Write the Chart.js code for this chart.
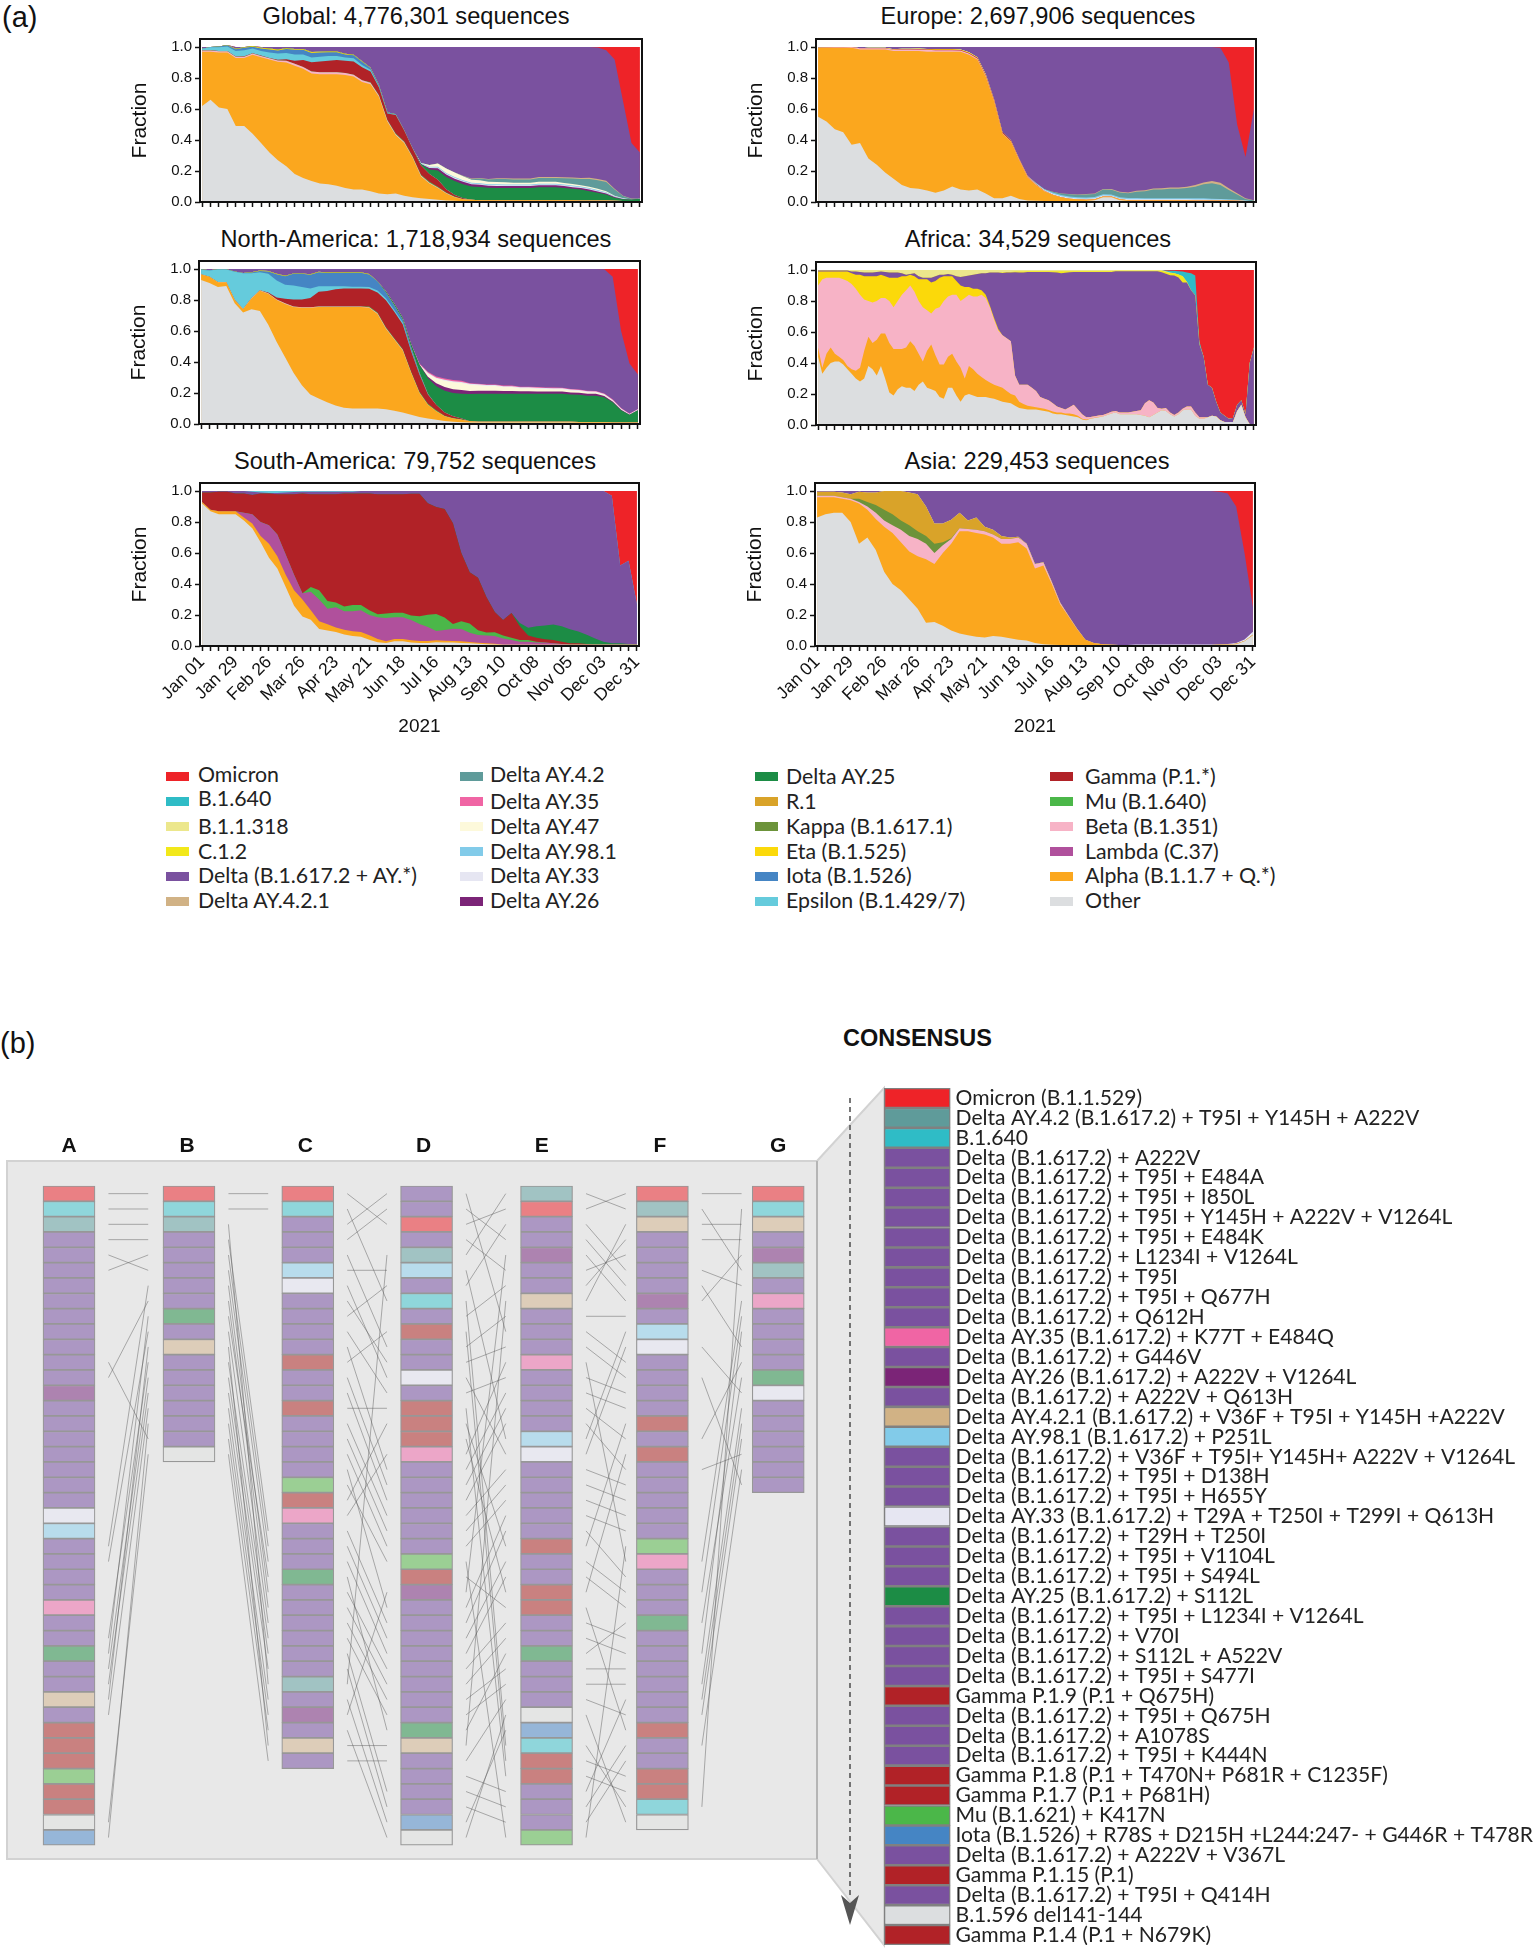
<!DOCTYPE html>
<html>
<head>
<meta charset="utf-8">
<title>Variant fractions and consensus</title>
<script src="https://cdn.jsdelivr.net/npm/chart.js@4"></script>
<style>
  html, body { margin: 0; padding: 0; background: #fff; }
  #page { position: relative; width: 1533px; height: 1949px; overflow: hidden; }
  canvas { position: absolute; }
  .tag { position: absolute; font-family: "Liberation Sans", sans-serif; font-size: 29px; font-weight: 300; color: #111; line-height: 34px; }
  .head { position: absolute; font-family: "Liberation Sans", sans-serif; font-size: 23.5px; font-weight: 700; color: #111; line-height: 28px; }
  .ptitle { position: absolute; transform: translateX(-50%); font-family: "Liberation Sans", sans-serif; font-size: 23.6px; color: #111; line-height: 28px; white-space: nowrap; }
  .key { position: absolute; font-family: Lato, sans-serif; font-size: 21.3px; color: #222; line-height: 24px; white-space: nowrap; }
  .swatch { position: absolute; width: 23px; height: 9px; }
</style>
</head>
<body>
<div id="page">
  <div class="tag" style="left:2px;top:0px">(a)</div>
  <div class="tag" style="left:0px;top:1026px">(b)</div>
  <div class="head" style="left:843px;top:1024px">CONSENSUS</div>
  <canvas id="global"></canvas>
  <canvas id="europe"></canvas>
  <canvas id="northAmerica"></canvas>
  <canvas id="africa"></canvas>
  <canvas id="southAmerica"></canvas>
  <canvas id="asia"></canvas>
  <canvas id="columns"></canvas>
  <canvas id="consensus"></canvas>
</div>
<script>
// x tick labels, one every 4 weeks
const tickLabels = ["Jan 01", "Jan 29", "Feb 26", "Mar 26", "Apr 23", "May 21", "Jun 18", "Jul 16", "Aug 13", "Sep 10", "Oct 08", "Nov 05", "Dec 03", "Dec 31"];

const variantColors = {
  omicron: "#ee2328", b1640: "#2fbcc6", b11318: "#ece78c", c12: "#f2e81a", delta: "#7a519f", ay421: "#d1b285",
  ay42: "#5f9b9a", ay35: "#f065a4", ay47: "#fdf9db", ay981: "#82cbe9", ay33: "#e6e6f2", ay26: "#7b2477",
  ay25: "#1c8c45", r1: "#d9a329", kappa: "#6c933a", eta: "#fbd90a", iota: "#4585c4", epsilon: "#65cbdc",
  gamma: "#b12227", mu: "#4bb749", beta: "#f7b3c6", lambda: "#b0509c", alpha: "#fba71e", other: "#dcdee0",
};

const legendLabels = [
  ["Omicron", "B.1.640", "B.1.1.318", "C.1.2", "Delta (B.1.617.2 + AY.*)", "Delta AY.4.2.1"],
  ["Delta AY.4.2", "Delta AY.35", "Delta AY.47", "Delta AY.98.1", "Delta AY.33", "Delta AY.26"],
  ["Delta AY.25", "R.1", "Kappa (B.1.617.1)", "Eta (B.1.525)", "Iota (B.1.526)", "Epsilon (B.1.429/7)"],
  ["Gamma (P.1.*)", "Mu (B.1.640)", "Beta (B.1.351)", "Lambda (C.37)", "Alpha (B.1.1.7 + Q.*)", "Other"],
];
const legendKeys = [
  ["omicron", "b1640", "b11318", "c12", "delta", "ay421"],
  ["ay42", "ay35", "ay47", "ay981", "ay33", "ay26"],
  ["ay25", "r1", "kappa", "eta", "iota", "epsilon"],
  ["gamma", "mu", "beta", "lambda", "alpha", "other"],
];

// zero padded series: values start at index `start`
function at(start, vals, n = 53) {
  const out = new Array(n).fill(0);
  vals.forEach((v, i) => { if (start + i < n) out[start + i] = v; });
  return out;
}

// Global, weekly shares
const globalOther = [.62,.66,.61,.60,.49,.49,.44,.38,.32,.27,.23,.18,.155,.135,.12,.115,.105,.09,.08,.08,.07,.055,.05,.055,.04,.03,.025,.02,.015,.01,.008,.005,.005,.004,.004,.003,.003,.003,.003,.003,.003,.003,.003,.003,.003,.003,.003,.003,.003,.002,.002,.002,.002];
const globalAlpha = [.35,.31,.355,.365,.44,.44,.51,.555,.60,.635,.67,.70,.705,.695,.705,.71,.72,.73,.73,.695,.69,.625,.47,.375,.34,.255,.14,.10,.075,.045,.022,.013,.01,.008,.008,.008,.008,.008,.008,.008,.008,.008,.008,.008,.008,.007,.007,.007,.006,.006,.005,.004,.004];
const globalBeta = at(0, [.008,.008,.008,.008,.008,.008,.008,.008,.008,.008,.012,.012,.012,.012,.012,.012,.012,.012,.012,.01,.01,.008,.008,.008,.008,.006,.006,.005,.004,.003,.002]);
const globalGamma = at(0, [.001,.001,.001,.001,.001,.002,.002,.002,.002,.005,.01,.02,.045,.06,.07,.075,.08,.08,.085,.085,.07,.05,.04,.12,.07,.05,.06,.05,.045,.02,.01,.005]);
const globalMu = at(20, [.003,.003,.003,.004,.004,.004,.005,.005,.004,.004,.003,.002]);
const globalEpsilon = at(0, [.01,.02,.025,.03,.035,.04,.03,.03,.035,.04,.04,.04,.035,.03,.03,.03,.025,.02,.02,.015,.01,.006,.004,.002]);
const globalIota = at(1, [.002,.005,.008,.012,.015,.012,.015,.02,.02,.025,.03,.03,.03,.028,.025,.025,.02,.02,.02,.012,.008,.004,.002]);
const globalEta = at(3, [.002,.003,.004,.005,.005,.005,.006,.006,.006,.006,.006,.005,.005,.005,.004,.004,.003,.002]);
const globalAy25 = at(26, [.01,.03,.06,.08,.09,.09,.085,.085,.08,.08,.08,.08,.08,.08,.085,.085,.085,.08,.075,.07,.06,.05,.04,.02,.01,.01,.015]);
const globalAy26 = at(27, [.01,.015,.015,.015,.015,.014,.014,.013,.013,.012,.012,.012,.012,.012,.012,.012,.012,.01,.01,.01,.008,.006,.004,.003]);
const globalAy33 = at(26, [.003,.005,.005,.005,.006,.006,.005,.005,.005,.005,.005,.005,.005,.005,.005,.005,.005,.005,.005,.005,.005,.005,.004,.002,.001]);
const globalAy981 = at(26, [.002,.003,.005,.005,.005,.005,.005,.005,.005,.005,.005,.005,.005,.005,.005,.005,.005,.005,.005,.005,.005,.005,.004,.003,.001]);
const globalAy47 = at(27, [.01,.02,.03,.03,.025,.02,.02,.015,.015,.015,.012,.012,.012,.012,.012,.012,.01,.01,.008,.008,.007,.006,.004,.002]);
const globalAy42 = at(31, [.002,.005,.01,.015,.02,.02,.02,.02,.02,.025,.025,.025,.03,.035,.04,.05,.055,.06,.04,.015,.005]);
const globalAy421 = at(31, [.002,.003,.004,.004,.005,.005,.006,.006,.006,.006,.006,.006,.007,.007,.007,.008,.008,.008,.005,.002,.001]);
const globalOmicron = at(47, [.003,.02,.08,.35,.62,.68]);

// Europe
const europeOther = [.55,.52,.47,.45,.37,.38,.28,.24,.19,.15,.11,.09,.085,.075,.06,.075,.10,.08,.075,.08,.055,.025,.025,.04,.02,.01,.008,.007,.007,.007,.007,.007,.007,.012,.03,.03,.012,.007,.007,.007,.007,.007,.007,.007,.007,.006,.006,.005,.005,.005,.005,.004,.004];
const europeAlpha = [.445,.475,.525,.545,.625,.605,.705,.745,.795,.825,.865,.885,.89,.895,.91,.895,.87,.89,.875,.84,.755,.625,.415,.35,.25,.15,.102,.063,.04,.024,.014,.01,.008,.006,.006,.005,.005,.005,.005,.004,.004,.004,.004,.004,.004,.004,.004,.004,.004,.004,.003,.002,.001];
const europeBeta = at(0, [.001,.002,.003,.004,.005,.008,.008,.008,.008,.008,.01,.01,.01,.012,.01,.01,.01,.008,.008,.006,.006,.005,.004,.004,.004,.004,.003,.002]);
const europeGamma = at(10, [.001,.001,.002,.002,.003,.003,.003,.003,.004,.005,.006,.006,.006,.005,.004,.003,.002]);
const europeEta = at(6, [.002,.002,.003,.003,.003,.003,.004,.004,.004,.004,.004,.004,.004,.003,.002]);
const europeAy33 = at(26, [.003,.005,.006,.006,.006,.006,.006,.006,.006,.006,.006,.006,.006,.006,.006,.006,.006,.006,.006,.006,.006,.006,.005,.004,.003,.002]);
const europeAy981 = at(26, [.004,.006,.008,.008,.008,.008,.008,.008,.008,.008,.008,.008,.008,.008,.008,.008,.008,.008,.008,.008,.008,.006,.005,.004,.003,.001]);
const europeAy42 = at(28, [.005,.01,.015,.015,.02,.02,.03,.03,.03,.03,.04,.045,.055,.055,.06,.06,.065,.075,.09,.1,.09,.06,.035,.01,.005]);
const europeAy421 = at(30, [.002,.002,.003,.003,.004,.005,.005,.005,.006,.006,.007,.008,.008,.008,.008,.01,.012,.014,.015,.012,.008,.005,.002]);
const europeOmicron = at(48, [.005,.10,.50,.71,.40]);

// North America
const naOther = [.93,.91,.885,.89,.78,.72,.74,.73,.64,.53,.43,.33,.25,.19,.165,.14,.12,.105,.10,.10,.10,.10,.095,.085,.075,.06,.045,.035,.028,.02,.015,.012,.01,.01,.01,.01,.01,.01,.01,.01,.01,.01,.01,.01,.01,.008,.008,.008,.008,.006,.005,.005,.005];
const naAlpha = [.035,.04,.03,.025,.02,.02,.07,.13,.20,.27,.345,.425,.50,.56,.59,.615,.635,.65,.655,.655,.65,.61,.52,.46,.40,.27,.155,.09,.055,.03,.02,.016,.008,.005,.005,.005,.005,.005,.005,.005,.005,.005,.005,.005,.005,.005,.005,.005,.005,.004,.004,.004,.004];
const naBeta = at(0, [.001,.001,.002,.002,.002,.003,.003,.004,.004,.004,.004,.004,.004,.004,.004,.004,.004,.004,.004,.004,.004,.004,.004,.004,.004,.003,.002]);
const naGamma = at(8, [.005,.012,.03,.045,.05,.06,.095,.10,.11,.115,.115,.115,.115,.13,.175,.17,.16,.13,.11,.06,.035,.02,.012,.005]);
const naMu = at(20, [.004,.005,.005,.005,.005,.006,.006,.005,.005,.004,.003,.002]);
const naEpsilon = at(0, [.03,.04,.08,.08,.18,.23,.16,.115,.12,.11,.09,.09,.08,.06,.035,.03,.02,.015,.012,.012,.012,.012,.012,.012,.012,.008,.005]);
const naIota = at(0, [.002,.002,.002,.002,.002,.002,.005,.008,.015,.04,.055,.075,.085,.09,.09,.085,.085,.085,.09,.09,.08,.06,.04,.03,.02,.02,.01,.005]);
const naEta = at(6, [.002,.003,.003,.003,.003,.003,.003,.003,.003,.003,.003,.003,.003,.003,.003]);
const naAy25 = at(22, [.005,.01,.01,.02,.05,.10,.12,.14,.15,.16,.175,.18,.18,.18,.18,.18,.18,.18,.18,.18,.18,.18,.175,.175,.17,.17,.16,.13,.08,.05,.08]);
const naAy26 = at(27, [.01,.02,.025,.025,.025,.02,.02,.02,.02,.018,.018,.016,.016,.015,.015,.015,.014,.014,.013,.012,.012,.008,.005,.003]);
const naAy33 = at(26, [.003,.005,.006,.006,.006,.006,.006,.006,.006,.006,.006,.006,.006,.006,.006,.006,.006,.006,.006,.006,.006,.006,.006,.006,.006,.006,.006]);
const naAy47 = at(27, [.02,.03,.04,.045,.045,.04,.035,.03,.03,.025,.025,.02,.02,.018,.016,.015,.015,.012,.012,.01,.008,.006,.004,.002]);
const naAy35 = at(26, [.005,.008,.008,.008,.008,.008,.004,.004,.004,.004,.004,.004,.004,.004,.004,.004,.004,.004,.004,.004,.004,.004,.004,.004,.003,.003,.002]);
const naOmicron = at(48, [.002,.05,.40,.61,.68]);

// Africa is noisy, read twice a week
const africaOther = [.44,.33,.37,.40,.41,.41,.39,.36,.33,.30,.28,.30,.38,.36,.32,.38,.30,.21,.19,.23,.25,.24,.24,.22,.26,.28,.24,.23,.22,.18,.17,.24,.24,.19,.15,.19,.20,.19,.18,.18,.18,.175,.17,.16,.15,.145,.14,.125,.11,.105,.10,.10,.10,.095,.09,.085,.075,.07,.07,.065,.06,.055,.05,.035,.03,.04,.045,.05,.055,.065,.075,.08,.07,.07,.07,.07,.07,.065,.06,.05,.065,.08,.095,.09,.07,.055,.07,.095,.10,.10,.06,.04,.04,.05,.06,.055,.03,.02,.02,.02,.09,.13,.05,.005,.005];
const africaAlpha = at(0, [.06,.04,.09,.10,.05,.03,.03,.02,.03,.05,.09,.18,.19,.17,.23,.21,.29,.32,.30,.26,.24,.26,.30,.29,.20,.13,.24,.29,.23,.21,.22,.20,.22,.22,.22,.11,.18,.17,.15,.13,.11,.10,.09,.09,.09,.075,.06,.065,.04,.03,.025,.02,.015,.015,.015,.012,.012,.01,.01,.01,.015,.015,.01,.005,.005,.002,.002,.002], 105);
const africaBeta = at(0, [.40,.57,.49,.45,.49,.51,.52,.55,.55,.53,.47,.33,.23,.26,.25,.23,.23,.27,.27,.31,.35,.37,.36,.35,.34,.35,.26,.20,.30,.37,.41,.39,.38,.43,.43,.52,.46,.47,.50,.53,.53,.485,.42,.36,.34,.34,.34,.13,.11,.125,.135,.12,.105,.07,.065,.063,.053,.04,.03,.025,.04,.06,.04,.03,.015,.01,.01,.01,.01,.01,.01,.01,.01,.01,.01,.015,.02,.03,.08,.11,.08,.03,.01,.02,.01,.01,.01,.01,.02,.02,.02,.01,.01], 105);
const africaEta = at(0, [.09,.05,.04,.04,.04,.04,.05,.06,.07,.09,.13,.15,.16,.17,.16,.15,.14,.15,.19,.15,.12,.09,.07,.10,.14,.18,.20,.20,.18,.19,.16,.13,.12,.09,.10,.07,.05,.05,.05,.03,.02,.01,.01,.01], 105);
const africaC12 = at(44, [.004,.004,.004,.004,.005,.005,.005,.005,.005,.005,.005,.005,.006,.008,.012,.01,.006,.005,.004,.004,.004,.004,.004,.004,.004,.004,.004,.004,.004,.004,.004,.004,.004,.004,.004,.004,.004,.004,.01,.012,.015,.015,.02,.04,.005], 105);
const africaB11318 = at(0, [.003,.003,.003,.003,.003,.003,.003,.003,.01,.01,.012,.015,.015,.015,.012,.01,.012,.015,.015,.015,.02,.03,.025,.02,.04,.05,.05,.05,.04,.03,.03,.025,.03,.04,.045,.04,.035,.03,.025,.02,.02,.015,.015,.015,.015,.012,.012,.01,.01,.01,.008,.008,.008,.008,.008,.008,.008,.008,.008,.008,.008,.008,.008,.008,.008,.008,.008,.008,.008,.008,.008,.004,.004,.004,.004,.004,.004,.004,.004,.004,.004,.004,.004,.004,.004], 105);
const africaB1640 = at(83, [.005,.01,.015,.02,.03,.06,.11,.13,.02], 105);
const africaOmicron = at(83, [.003,.005,.005,.008,.01,.015,.02,.035,.46,.56,.74,.76,.85,.92,.94,.96,.955,.87,.84,.93,.60,.50], 105);

// South America
const saOther = [.92,.87,.85,.85,.85,.81,.76,.67,.57,.50,.38,.26,.19,.17,.11,.10,.09,.075,.065,.06,.04,.025,.02,.03,.03,.022,.02,.02,.025,.022,.022,.02,.018,.015,.012,.01,.008,.008,.008,.008,.008,.008,.008,.008,.008,.008,.008,.008,.008,.008,.008,.008,.008];
const saAlpha = at(0, [.01,.01,.02,.02,.02,.02,.03,.04,.09,.08,.08,.10,.11,.06,.05,.04,.03,.03,.03,.03,.03,.02,.01,.015,.015,.015,.012,.012,.012,.012,.01,.01,.008,.006,.005,.004]);
const saLambda = at(5, [.03,.06,.09,.12,.14,.13,.10,.04,.12,.14,.10,.13,.12,.13,.14,.13,.14,.15,.14,.14,.13,.11,.09,.06,.07,.08,.08,.06,.05,.05,.05,.04,.03,.02,.02,.015,.015,.01,.005]);
const saMu = at(13, [.03,.06,.05,.03,.03,.04,.035,.03,.02,.03,.03,.03,.03,.05,.08,.11,.08,.03,.05,.06,.03,.02,.025,.02,.015,.01,.01,.005]);
const saGamma = at(0, [.06,.11,.125,.125,.115,.125,.125,.185,.205,.26,.39,.52,.645,.60,.62,.69,.70,.73,.72,.72,.755,.775,.77,.765,.765,.785,.79,.72,.69,.70,.65,.44,.33,.34,.23,.13,.10,.16,.09,.03,.025,.02,.02,.015,.01,.01,.005]);
const saEpsilon = at(6, [.005,.01,.012,.012,.01,.006,.004,.004,.004,.004,.004,.004,.004]);
const saAy25 = at(38, [.02,.05,.075,.09,.10,.10,.09,.075,.06,.04,.02,.01,.01,.005]);
const saOmicron = at(49, [.03,.48,.45,.73]);

// Asia
const asiaOther = [.83,.85,.86,.86,.80,.66,.70,.62,.48,.40,.36,.30,.24,.15,.155,.13,.10,.08,.07,.06,.055,.065,.06,.05,.04,.035,.02,.012,.008,.006,.005,.005,.005,.005,.005,.005,.005,.005,.005,.005,.005,.005,.005,.005,.005,.005,.005,.005,.006,.008,.012,.03,.07];
const asiaAlpha = [.13,.11,.10,.09,.14,.26,.18,.20,.29,.33,.31,.31,.34,.41,.375,.47,.56,.66,.67,.67,.665,.635,.60,.61,.63,.595,.48,.508,.392,.264,.185,.105,.035,.015,.007,.003,.002,.002,.002,.002,.002,.002,.002,.002,.002,.002,.002,.002,.002,.002,.002,.002,.002];
const asiaBeta = at(0, [.01,.01,.01,.01,.01,.01,.02,.04,.04,.05,.08,.10,.11,.10,.07,.05,.03,.02,.015,.02,.02,.02,.03,.03,.03,.03,.03,.02,.015,.01,.005,.003]);
const asiaKappa = at(5, [.02,.03,.05,.07,.07,.06,.07,.05,.05,.06,.02,.005]);
const asiaR1 = at(0, [.025,.025,.025,.03,.03,.045,.06,.08,.12,.15,.19,.21,.24,.19,.13,.12,.12,.10,.055,.08,.03,.03,.02,.01,.005]);
const asiaAy33 = at(38, [.002,.002,.003,.002,.002,.002,.003,.003,.002,.002,.002,.003,.005,.01,.02]);
const asiaOmicron = at(48, [.005,.015,.10,.40,.75]);

// panel (b): one code per cell, top to bottom
const cellColors = {
  R: "#ea8084", c: "#8fd6db", t: "#a1c3c3", p: "#ac97c3", m: "#ad83b0", w: "#e8e8f0", b: "#b8dcec",
  k: "#eca6c8", g: "#80b892", l: "#9bcf94", r: "#c98180", n: "#ddcdb9", y: "#e4e5e4", i: "#96b6d8",
};
const columnNames = ["A", "B", "C", "D", "E", "F", "G"];
const columnSlots = [0, 1.015, 2.02, 3.025, 4.04, 5.02, 6];
const columnA = "Rctppppppppppmpppppppwbppppkppgppnprrrlrryi";
const columnB = "Rctpppppgpnppppppy";
const columnC = "Rcpppbwpppprpprpppplrkpppgpppppptpmpnp";
const columnD = "ppRptbpcprppwprrrkpppppplrmppppppppgnppppiy";
const columnE = "tRppmppnpppkppppbwppppprpprrppgpppyicrrpppl";
const columnF = "Rtnppppmpbwpppprprppppplkpppgpppppprpprrcy";
const columnG = "Rcnpmtpkppppgwpppppp";
const columnRows = [columnA, columnB, columnC, columnD, columnE, columnF, columnG];

// lines between neighbouring columns: [row on the left, row on the right]
const linksAB = [[0,0],[1,1],[2,2],[3,3],[4,5],[5,4],[12,7],[11,16],[23,6],[30,8],[24,9],[33,10],[29,11],[31,12],[32,13],[34,14],[42,15],[41,17]];
const linksBC = [[0,0],[1,1],[2,32],[3,22],[4,23],[5,24],[6,26],[7,27],[8,25],[9,28],[10,36],[11,29],[12,30],[13,31],[14,33],[15,34],[16,35],[17,37]];
const linksCD = [[0,2],[1,7],[2,0],[3,1],[4,10],[5,5],[6,12],[7,11],[8,6],[9,13],[10,18],[11,9],[12,19],[13,20],[14,14],[15,21],[16,22],[17,23],[18,27],[19,24],[20,15],[21,17],[22,28],[23,29],[24,30],[25,35],[26,31],[27,32],[28,33],[29,34],[30,39],[31,40],[32,4],[33,41],[34,26],[35,42],[36,36],[37,37]];
const linksDE = [[0,9],[1,3],[2,1],[3,5],[4,0],[5,16],[6,2],[7,36],[8,6],[9,37],[10,8],[11,10],[12,17],[13,12],[14,38],[15,23],[16,26],[17,11],[18,13],[19,14],[20,15],[21,18],[22,19],[23,20],[24,42],[25,27],[26,4],[27,21],[28,22],[29,24],[30,25],[31,28],[32,29],[33,31],[34,32],[35,30],[36,7],[37,33],[38,39],[39,40],[40,41],[41,35],[42,34]];
const linksEF = [[0,1],[1,0],[2,5],[3,6],[4,7],[5,4],[6,3],[7,2],[8,8],[9,11],[10,12],[11,24],[12,13],[13,14],[14,16],[15,18],[16,9],[17,10],[18,19],[19,20],[20,21],[21,22],[22,25],[23,15],[24,26],[25,27],[26,17],[27,35],[28,29],[29,30],[30,28],[31,31],[32,32],[33,34],[34,41],[36,40],[37,38],[38,39],[39,33],[40,36],[41,37],[42,23]];
const linksFG = [[0,0],[1,5],[2,2],[3,3],[5,6],[6,10],[7,4],[10,13],[12,19],[16,11],[18,17],[24,7],[26,8],[28,12],[30,9],[32,14],[33,15],[34,16],[36,18],[40,1]];
const gapLinks = [linksAB, linksBC, linksCD, linksDE, linksEF, linksFG];

// consensus list
const consensusLabels = [
  "Omicron (B.1.1.529)", "Delta AY.4.2 (B.1.617.2) + T95I + Y145H + A222V", "B.1.640",
  "Delta (B.1.617.2) + A222V", "Delta (B.1.617.2) + T95I + E484A", "Delta (B.1.617.2) + T95I + I850L",
  "Delta (B.1.617.2) + T95I + Y145H + A222V + V1264L", "Delta (B.1.617.2) + T95I + E484K",
  "Delta (B.1.617.2) + L1234I + V1264L", "Delta (B.1.617.2) + T95I", "Delta (B.1.617.2) + T95I + Q677H",
  "Delta (B.1.617.2) + Q612H", "Delta AY.35 (B.1.617.2) + K77T + E484Q", "Delta (B.1.617.2) + G446V",
  "Delta AY.26 (B.1.617.2) + A222V + V1264L", "Delta (B.1.617.2) + A222V + Q613H",
  "Delta AY.4.2.1 (B.1.617.2) + V36F + T95I + Y145H +A222V", "Delta AY.98.1 (B.1.617.2) + P251L",
  "Delta (B.1.617.2) + V36F + T95I+ Y145H+ A222V + V1264L", "Delta (B.1.617.2) + T95I + D138H",
  "Delta (B.1.617.2) + T95I + H655Y", "Delta AY.33 (B.1.617.2) + T29A + T250I + T299I + Q613H",
  "Delta (B.1.617.2) + T29H + T250I", "Delta (B.1.617.2) + T95I + V1104L", "Delta (B.1.617.2) + T95I + S494L",
  "Delta AY.25 (B.1.617.2) + S112L", "Delta (B.1.617.2) + T95I + L1234I + V1264L", "Delta (B.1.617.2) + V70I",
  "Delta (B.1.617.2) + S112L + A522V", "Delta (B.1.617.2) + T95I + S477I", "Gamma P.1.9 (P.1 + Q675H)",
  "Delta (B.1.617.2) + T95I + Q675H", "Delta (B.1.617.2) + A1078S", "Delta (B.1.617.2) + T95I + K444N",
  "Gamma P.1.8 (P.1 + T470N+ P681R + C1235F)", "Gamma P.1.7 (P.1 + P681H)", "Mu (B.1.621) + K417N",
  "Iota (B.1.526) + R78S + D215H +L244:247- + G446R + T478R", "Delta (B.1.617.2) + A222V + V367L",
  "Gamma P.1.15 (P.1)", "Delta (B.1.617.2) + T95I + Q414H", "B.1.596 del141-144", "Gamma P.1.4 (P.1 + N679K)",
];
const consensusKeys = [
  "omicron", "ay42", "b1640", "delta", "delta", "delta", "delta", "delta", "delta", "delta", "delta", "delta",
  "ay35", "delta", "ay26", "delta", "ay421", "ay981", "delta", "delta", "delta", "ay33", "delta", "delta", "delta",
  "ay25", "delta", "delta", "delta", "delta", "gamma", "delta", "delta", "delta", "gamma", "gamma", "mu", "iota",
  "delta", "gamma", "delta", "other", "gamma",
];
const consensusValues = consensusKeys.map(() => 1);

// what gets stacked in each small panel, bottom to top; Delta takes what is left up to 1
const panels = [
  { id: "global", title: "Global: 4,776,301 sequences", box: [199.5, 642, 39], centre: 416, titleUp: 37, labels: false,
    below: [["other", globalOther], ["alpha", globalAlpha], ["beta", globalBeta], ["mu", globalMu], ["gamma", globalGamma], ["epsilon", globalEpsilon], ["iota", globalIota], ["eta", globalEta], ["ay25", globalAy25], ["ay26", globalAy26], ["ay33", globalAy33], ["ay981", globalAy981], ["ay47", globalAy47], ["ay42", globalAy42], ["ay421", globalAy421]],
    above: [["omicron", globalOmicron]] },
  { id: "europe", title: "Europe: 2,697,906 sequences", box: [816, 1256, 39], centre: 1038, titleUp: 37, labels: false,
    below: [["other", europeOther], ["alpha", europeAlpha], ["beta", europeBeta], ["gamma", europeGamma], ["eta", europeEta], ["ay33", europeAy33], ["ay981", europeAy981], ["ay42", europeAy42], ["ay421", europeAy421]],
    above: [["omicron", europeOmicron]] },
  { id: "northAmerica", title: "North-America: 1,718,934 sequences", box: [199, 640, 261], centre: 416, titleUp: 36, labels: false,
    below: [["other", naOther], ["alpha", naAlpha], ["beta", naBeta], ["mu", naMu], ["gamma", naGamma], ["epsilon", naEpsilon], ["iota", naIota], ["eta", naEta], ["ay25", naAy25], ["ay26", naAy26], ["ay47", naAy47], ["ay33", naAy33], ["ay35", naAy35]],
    above: [["omicron", naOmicron]] },
  { id: "africa", title: "Africa: 34,529 sequences", box: [816, 1256, 262], centre: 1038, titleUp: 37, labels: false,
    below: [["other", africaOther], ["alpha", africaAlpha], ["beta", africaBeta], ["eta", africaEta]],
    above: [["c12", africaC12], ["b11318", africaB11318], ["b1640", africaB1640], ["omicron", africaOmicron]] },
  { id: "southAmerica", title: "South-America: 79,752 sequences", box: [199.5, 639, 483], centre: 415, titleUp: 36, labels: true,
    below: [["other", saOther], ["alpha", saAlpha], ["lambda", saLambda], ["mu", saMu], ["gamma", saGamma], ["ay25", saAy25]],
    above: [["epsilon", saEpsilon], ["omicron", saOmicron]] },
  { id: "asia", title: "Asia: 229,453 sequences", box: [815, 1255, 483], centre: 1037, titleUp: 36, labels: true,
    below: [["other", asiaOther], ["alpha", asiaAlpha], ["beta", asiaBeta], ["kappa", asiaKappa], ["r1", asiaR1], ["ay33", asiaAy33]],
    above: [["omicron", asiaOmicron]] },
];

Chart.defaults.font.family = '"Liberation Sans", sans-serif';
Chart.defaults.color = "#111";
Chart.defaults.animation = false;
Chart.defaults.responsive = false;

const frame = {
  id: "frame",
  afterDatasetsDraw(chart) {
    const a = chart.chartArea, ctx = chart.ctx;
    ctx.save();
    ctx.strokeStyle = "#111";
    ctx.lineWidth = 2;
    ctx.strokeRect(a.left, a.top, a.width, a.height);
    ctx.restore();
  },
};

function place(id, left, top, width, height) {
  const c = document.getElementById(id);
  c.width = width;
  c.height = height;
  c.style.left = left + "px";
  c.style.top = top + "px";
  c.style.width = width + "px";
  c.style.height = height + "px";
  return c;
}

const page = document.getElementById("page");

function drawPanel(p) {
  const [plotLeft, plotRight, plotTop] = p.box;
  const left = plotLeft - 72;
  const width = plotRight - left + 4;
  const axisHeight = p.labels ? 92 : 9;
  const canvas = place(p.id, left, plotTop - 1, width, 164 + axisHeight);

  const title = document.createElement("div");
  title.className = "ptitle";
  title.style.left = p.centre + "px";
  title.style.top = (plotTop - p.titleUp) + "px";
  title.textContent = p.title;
  page.appendChild(title);

  const n = p.below[0][1].length;
  const deltaShare = p.below[0][1].map((_, i) => {
    let used = 0;
    p.below.concat(p.above).forEach(s => { used += s[1][i]; });
    return Math.max(0, 1 - used);
  });
  const series = p.below.concat([["delta", deltaShare]], p.above);

  new Chart(canvas, {
    type: "line",
    data: {
      datasets: series.map(s => ({
        label: s[0],
        data: s[1].map((v, i) => ({ x: i * 52 / (n - 1), y: v })),
        backgroundColor: variantColors[s[0]],
        borderWidth: 0,
        pointRadius: 0,
        tension: 0,
        fill: "origin",
      })),
    },
    options: {
      layout: { padding: { right: 4, left: 0, top: 1, bottom: 0 } },
      plugins: {
        legend: { display: false },
        tooltip: { enabled: false },
      },
      scales: {
        x: {
          type: "linear",
          min: -0.25,
          max: 52.25,
          border: { display: false },
          grid: { drawOnChartArea: false, color: "#111", tickLength: 5, tickWidth: 1.5 },
          ticks: {
            stepSize: 1,
            autoSkip: false,
            includeBounds: false,
            minRotation: p.labels ? 45 : 0,
            maxRotation: p.labels ? 45 : 0,
            padding: 1,
            font: { size: 17.5 },
            callback: v => (p.labels && v % 4 === 0 ? tickLabels[v / 4] : ""),
          },
          title: { display: p.labels, text: "2021", font: { size: 19 }, padding: 0, color: "#111" },
          afterFit(s) { s.height = axisHeight; s.paddingLeft = 0; s.paddingRight = 0; },
        },
        y: {
          stacked: true,
          min: 0,
          max: 1.052,
          border: { display: false },
          grid: { drawOnChartArea: false, color: "#111", tickLength: 5, tickWidth: 1.5 },
          ticks: { stepSize: 0.2, includeBounds: false, padding: 3, font: { size: 15 }, callback: v => v.toFixed(1) },
          title: { display: true, text: "Fraction", font: { size: 21 }, padding: 0, color: "#111" },
          afterFit(s) { s.width = 72; s.paddingTop = 0; s.paddingBottom = 0; },
        },
      },
    },
    plugins: [frame],
  });
}
panels.forEach(drawPanel);

// legend
const legendColX = [166, 460, 755, 1050];
const legendTextX = [198, 490, 786, 1085];
const legendRowY = [776, 801, 826, 851, 876, 901];
const legendTextY = [
  [774, 798, 826, 851, 875, 900],
  [774, 801, 826, 851, 875, 900],
  [776, 801, 826, 851, 875, 900],
  [776, 801, 826, 851, 875, 900],
];
legendLabels.forEach((col, c) => {
  col.forEach((label, r) => {
    const sw = document.createElement("div");
    sw.className = "swatch";
    sw.style.left = legendColX[c] + "px";
    sw.style.top = (legendRowY[r] - 4) + "px";
    sw.style.background = variantColors[legendKeys[c][r]];
    page.appendChild(sw);
    const t = document.createElement("div");
    t.className = "key";
    t.style.left = legendTextX[c] + "px";
    t.style.top = (legendTextY[c][r] - 12) + "px";
    t.textContent = label;
    page.appendChild(t);
  });
});

// panel (b) columns and the lines between them
const columnBackdrop = {
  id: "columnBackdrop",
  beforeDraw(chart) {
    const a = chart.chartArea, ctx = chart.ctx;
    ctx.save();
    ctx.fillStyle = "#e8e8e8";
    ctx.strokeStyle = "#d2d2d2";
    ctx.lineWidth = 2;
    ctx.fillRect(a.left, a.top, a.width, a.height);
    ctx.strokeRect(a.left, a.top, a.width, a.height);
    ctx.beginPath();
    ctx.moveTo(a.right, a.top);
    ctx.lineTo(a.right + 67, a.top - 73);
    ctx.lineTo(a.right + 67, a.bottom + 86);
    ctx.lineTo(a.right, a.bottom);
    ctx.closePath();
    ctx.fill();
    ctx.stroke();
    ctx.strokeStyle = "#b5b5b5";
    ctx.beginPath();
    ctx.moveTo(a.right, a.top);
    ctx.lineTo(a.right, a.bottom);
    ctx.stroke();
    ctx.restore();
  },
  afterDraw(chart) {
    const a = chart.chartArea, ctx = chart.ctx;
    const ax = a.right + 33;
    ctx.save();
    ctx.strokeStyle = "#555";
    ctx.lineWidth = 1.6;
    ctx.setLineDash([5, 4]);
    ctx.beginPath();
    ctx.moveTo(ax, a.top - 63);
    ctx.lineTo(ax, a.bottom + 40);
    ctx.stroke();
    ctx.setLineDash([]);
    ctx.fillStyle = "#555";
    ctx.beginPath();
    ctx.moveTo(ax - 9, a.bottom + 36);
    ctx.lineTo(ax, a.bottom + 44);
    ctx.lineTo(ax + 9, a.bottom + 36);
    ctx.lineTo(ax, a.bottom + 66);
    ctx.closePath();
    ctx.fill();
    ctx.restore();
  },
};

const columnDatasets = columnRows.map((rows, col) => ({
  type: "bar",
  label: columnNames[col],
  data: rows.split("").map((_, r) => ({ x: columnSlots[col], y: [r, r + 1] })),
  backgroundColor: rows.split("").map(code => cellColors[code]),
  borderColor: "#979797",
  borderWidth: 1.2,
  borderSkipped: false,
  barThickness: 52,
  grouped: false,
}));
const linkDatasets = gapLinks.map((links, gap) => {
  const pts = [];
  links.forEach(l => {
    pts.push({ x: columnSlots[gap] + 0.334, y: l[0] + 0.5 });
    pts.push({ x: columnSlots[gap] + 0.67, y: l[1] + 0.5 });
    pts.push({ x: columnSlots[gap] + 0.67, y: NaN });
  });
  return { type: "line", data: pts, borderColor: "rgba(85,85,85,0.65)", borderWidth: 0.7, pointRadius: 0, spanGaps: false, tension: 0 };
});

new Chart(place("columns", 0, 1080, 890, 869), {
  type: "bar",
  data: { datasets: columnDatasets.concat(linkDatasets) },
  options: {
    layout: { padding: { left: 7, right: 73, top: 0, bottom: 90 } },
    plugins: { legend: { display: false }, tooltip: { enabled: false } },
    scales: {
      x: {
        type: "linear",
        position: "top",
        offset: false,
        min: -0.5245,
        max: 6.328,
        border: { display: false },
        grid: { display: false, drawTicks: false },
        ticks: { stepSize: 1, autoSkip: false, includeBounds: false, maxRotation: 0, padding: 2, font: { size: 21, weight: "bold" }, color: "#111", callback: v => columnNames[v] },
        afterFit(s) { s.height = 81; s.paddingLeft = 0; s.paddingRight = 0; },
      },
      y: { display: false, reverse: true, min: -1.63, max: 43.9 },
    },
  },
  plugins: [columnBackdrop],
});

// consensus column with its labels on the right
new Chart(place("consensus", 882, 1088, 651, 857), {
  type: "bar",
  data: {
    labels: consensusLabels,
    datasets: [{
      data: consensusValues,
      backgroundColor: consensusKeys.map(k => variantColors[k]),
      borderColor: "#808080",
      borderWidth: 1.6,
      borderSkipped: false,
      barPercentage: 1,
      categoryPercentage: 1,
    }],
  },
  options: {
    indexAxis: "y",
    layout: { padding: { left: 2, right: 0, top: 0, bottom: 0 } },
    plugins: { legend: { display: false }, tooltip: { enabled: false } },
    scales: {
      x: { display: false, min: 0, max: 1 },
      y: {
        position: "right",
        border: { display: false },
        grid: { display: false, drawTicks: false },
        ticks: { autoSkip: false, padding: 5, font: { family: "Lato", size: 21.1 }, color: "#222" },
        afterFit(s) { s.width = 651 - 68.5; s.paddingTop = 0; s.paddingBottom = 0; },
      },
    },
  },
});
</script>
</body>
</html>
